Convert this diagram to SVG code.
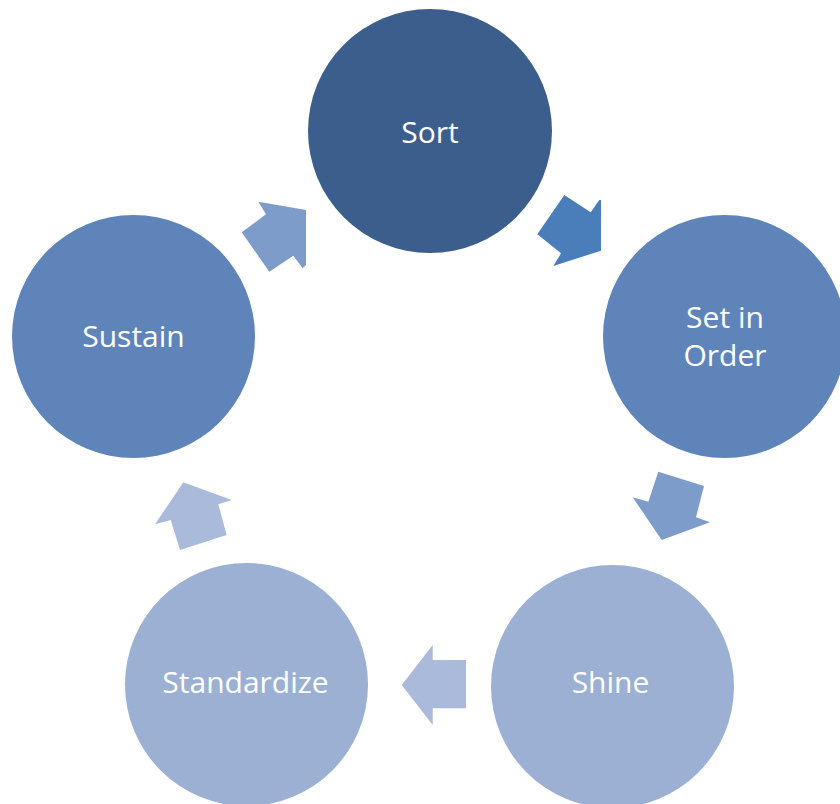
<svg xmlns="http://www.w3.org/2000/svg" width="840" height="804" viewBox="0 0 840 804">
<style>
.lbl{font-family:"Open Sans","Noto Sans","DejaVu Sans",sans-serif;font-size:30px;fill:#ffffff;text-anchor:middle}
</style>
<rect width="840" height="804" fill="#ffffff"/>
<g id="connectors">
<polygon id="a1" points="537.3,234.3 564.3,195 590.7,212.3 599.3,200 601,200 601,250.7 553.3,266 561,253.3" fill="#4A7EBB"/>
<polygon id="a2" points="658.3,471.7 704,486 696,517.3 710,522.3 661.7,540 632.7,497.3 648.3,501.7" fill="#7E9CC9"/>
<polygon id="a3" points="401.7,685 432.7,645 432.7,660 466,660 466,708.3 432.7,708.3 432.7,725" fill="#A9BADA"/>
<polygon id="a4" points="155,524.3 183.3,482.3 231.7,500 218.3,504.3 226.7,535 180,550 170.7,520" fill="#A9BADA"/>
<polygon id="a5" points="258.3,201.7 306,210 306,265 302.7,268.3 293.3,255.7 269.3,271.7 241.7,232.3 266,214.3" fill="#7E9CC9"/>
</g>
<g id="sort">
<circle cx="430" cy="131" r="122" fill="#3B5E8C"/>
<text class="lbl" x="430" y="143.3">Sort</text>
</g>
<g id="set-in-order">
<circle cx="724.5" cy="336.5" r="121.5" fill="#5F84BA"/>
<text class="lbl" x="725" y="327.7">Set in</text>
<text class="lbl" x="725" y="366">Order</text>
</g>
<g id="shine">
<circle cx="612.5" cy="686.5" r="121.5" fill="#9CB0D3"/>
<text class="lbl" x="610.5" y="693.3">Shine</text>
</g>
<g id="standardize">
<circle cx="246.5" cy="684.5" r="121.5" fill="#9CB0D3"/>
<text class="lbl" x="245.5" y="693.3">Standardize</text>
</g>
<g id="sustain">
<circle cx="133.5" cy="336.5" r="121.5" fill="#5F84BA"/>
<text class="lbl" x="133.5" y="346.7">Sustain</text>
</g>
</svg>
